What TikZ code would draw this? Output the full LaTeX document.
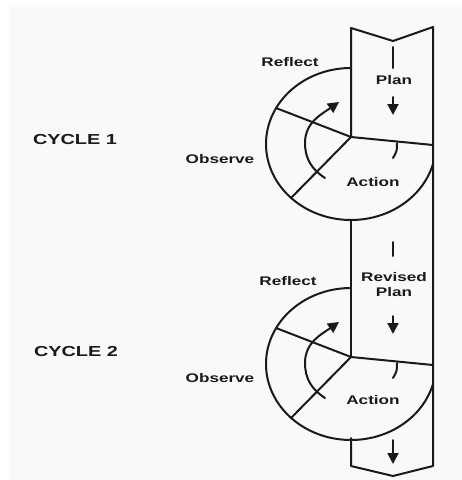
\documentclass[tikz,border=0pt]{standalone}
\usepackage{fontspec}
\setmainfont{Liberation Sans}[FakeStretch=1.37]
\usetikzlibrary{arrows.meta}
\definecolor{ink}{HTML}{1A1A1A}
\definecolor{paper}{HTML}{FBF8F8}
\begin{document}
\begin{tikzpicture}[x=1pt,y=1pt,
  ln/.style={line width=2pt, draw=ink, line join=round, line cap=round},
  lbl/.style={font=\bfseries\fontsize{12.5}{15}\selectfont, text=ink, inner sep=0pt, align=center},
  cyc/.style={font=\bfseries\fontsize{14.5}{16}\selectfont, text=ink, inner sep=0pt},
  tip/.style={-{Triangle[length=11pt,width=11pt]}}
]
% page and paper
\path[use as bounding box, fill=white] (0,-480) rectangle (462,0);
\fill[paper] (9,-480) rectangle (462,-7);

% the vertical plan strip with notched top and pointed bottom
\draw[ln] (351,-137) -- (351,-28) -- (393,-41) -- (433,-27) -- (433,-466)
          -- (393,-476) -- (351,-466) -- (351,-438);
\draw[ln] (351,-220) -- (351,-357);

% one action-research cycle: outer arc, sector lines, turning arrow, tick
\foreach \cy in {-137,-357}{
  \begin{scope}[shift={(351,\cy)}]
    \coordinate (hub) at (0,0);
    \draw[ln] (0,69) arc[start angle=90, end angle=344.7, x radius=85, y radius=76];
    \draw[ln] (hub) -- (82,-8);
    \draw[ln] (hub) -- (-75,29);
    \draw[ln] (hub) -- (-60,-61);
    \draw[ln,tip] (-26,-41) to[out=147,in=-90] (-46,-6) to[out=90,in=215] (-12,35);
    \draw[ln] (46,-6) .. controls (46,-14) .. (42,-21);
  \end{scope}
}

% flow marks inside the strip
\coordinate (d1a) at (393,-47);  \coordinate (d1b) at (393,-68);
\coordinate (a1a) at (393,-97);  \coordinate (a1b) at (393,-115);
\coordinate (d2a) at (393,-242); \coordinate (d2b) at (393,-256);
\coordinate (a2a) at (393,-316); \coordinate (a2b) at (393,-334);
\coordinate (a3a) at (393,-440); \coordinate (a3b) at (393,-464);
\draw[ln] (d1a) -- (d1b);
\draw[ln,tip] (a1a) -- (a1b);
\draw[ln] (d2a) -- (d2b);
\draw[ln,tip] (a2a) -- (a2b);
\draw[ln,tip] (a3a) -- (a3b);

% labels
\node[cyc] (cycle1) at (75,-140) {CYCLE 1};
\node[lbl] (reflect1) at (290,-62) {Reflect};
\node[lbl] (plan1) at (394,-80) {Plan};
\node[lbl] (observe1) at (220,-159) {Observe};
\node[lbl] (action1) at (373,-182) {Action};

\node[cyc] (cycle2) at (76,-352) {CYCLE 2};
\node[lbl] (reflect2) at (288,-281) {Reflect};
\node[lbl] (plan2) at (394,-285) {Revised\\Plan};
\node[lbl] (observe2) at (220,-378) {Observe};
\node[lbl] (action2) at (373,-400) {Action};
\end{tikzpicture}
\end{document}
